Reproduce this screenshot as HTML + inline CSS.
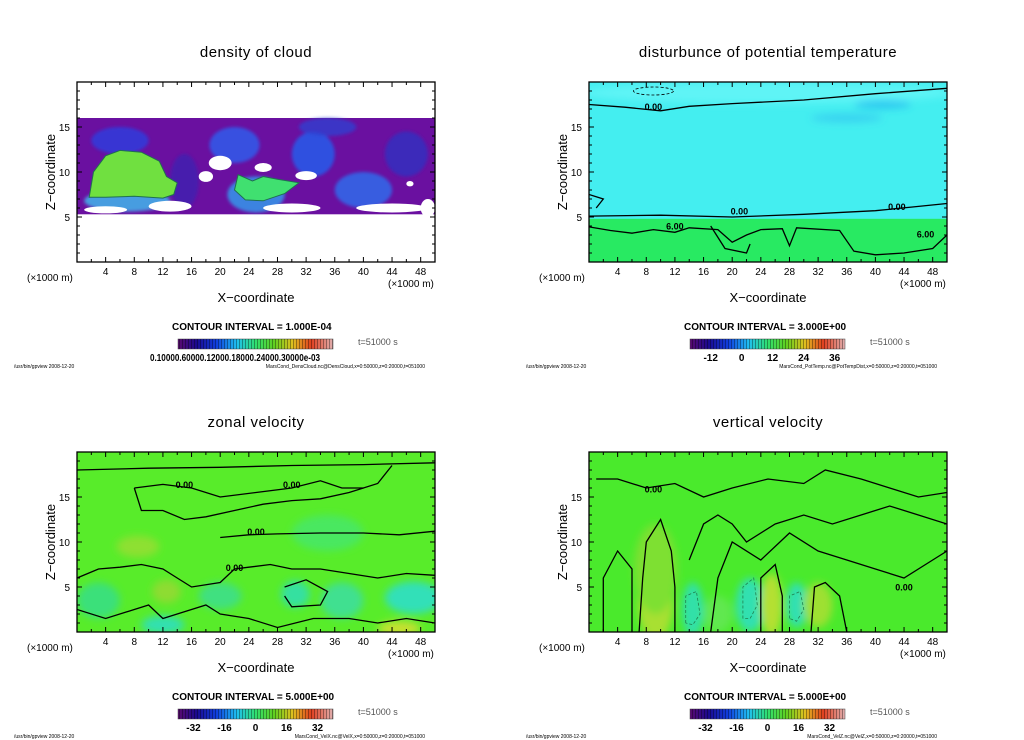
<!DOCTYPE html>
<html><head><meta charset="utf-8">
<style>
html,body{margin:0;padding:0;background:#fff;}
svg{display:block;font-family:"Liberation Sans",sans-serif;}
</style></head>
<body>
<svg id="fig" width="1024" height="740" viewBox="0 0 1024 740" xmlns="http://www.w3.org/2000/svg">
<defs>
<filter id="blur4" x="-20%" y="-20%" width="140%" height="140%"><feGaussianBlur stdDeviation="4"/></filter>
<filter id="blur2" x="-20%" y="-20%" width="140%" height="140%"><feGaussianBlur stdDeviation="1.5"/></filter>
<linearGradient id="cbar" x1="0" x2="1" y1="0" y2="0">
<stop offset="0" stop-color="#5a0a70"/><stop offset="0.12" stop-color="#1a0a90"/>
<stop offset="0.25" stop-color="#1040e0"/><stop offset="0.38" stop-color="#20c0f0"/>
<stop offset="0.5" stop-color="#30e070"/><stop offset="0.62" stop-color="#60d020"/>
<stop offset="0.74" stop-color="#e0c020"/><stop offset="0.86" stop-color="#e04020"/>
<stop offset="1" stop-color="#e0b0b0"/></linearGradient>
<pattern id="stripes" width="3" height="10" patternUnits="userSpaceOnUse"><rect x="2" width="1" height="10" fill="rgba(0,0,0,0.35)"/></pattern>
</defs>
</svg>
<script>
// ---------------- data ----------------
const xTicks=[4,8,12,16,20,24,28,32,36,40,44,48];
const zTicks=[5,10,15];
const titles=["density of cloud","disturbunce of potential temperature","zonal velocity","vertical velocity"];
const intervals=["CONTOUR INTERVAL = 1.000E-04","CONTOUR INTERVAL = 3.000E+00","CONTOUR INTERVAL = 5.000E+00","CONTOUR INTERVAL = 5.000E+00"];
const cbarLabelsPT=["-12","0","12","24","36"];
const cbarValuesPT=[-12,0,12,24,36];
const cbarLabelsV=["-32","-16","0","16","32"];
const cbarValuesV=[-32,-16,0,16,32];
const footRight=["MarsCond_DensCloud.nc@DensCloud,x=0:50000,z=0:20000,t=051000","MarsCond_PotTemp.nc@PotTempDist,x=0:50000,z=0:20000,t=051000","MarsCond_VelX.nc@VelX,x=0:50000,z=0:20000,t=051000","MarsCond_VelZ.nc@VelZ,x=0:50000,z=0:20000,t=051000"];
// field blobs: [x, z, rx, rz, color]
const cloudBlobs=[[6,13.5,4,1.5,"#2a40e0"],[22,13,3.5,2,"#2a60f0"],[33,12,3,2.5,"#2060f0"],[40,8,4,2,"#2a70f0"],[25,7.5,4,2,"#30a0f0"],[7,6.8,6,1.2,"#40c0f0"],[46,12,3,2.5,"#3030c0"],[35,15,4,1,"#3040d0"],[15,9,2,3,"#4020b0"]];
const cloudHoles=[[20,11,1.6,0.8],[18,9.5,1,0.6],[26,10.5,1.2,0.5],[32,9.6,1.5,0.5],[4,5.8,3,0.4],[13,6.2,3,0.6],[30,6,4,0.5],[44,6,5,0.5],[49,6,1,1],[46.5,8.7,0.5,0.3]];
const cloudDome=[[1.7,7.2],[2.3,10],[4,11.8],[6,12.4],[9,12.2],[11.5,11.2],[12.5,9.5],[14,8.8],[13.5,7.5],[12,7.1],[8,7.3],[4,7.2]];
const cloudPatch=[[22.5,9.7],[24.5,9],[26,9.5],[28,9.2],[31,8.8],[29,7.6],[26,6.8],[23.5,6.9],[22,8]];
const ptBlobs=[[9,19,6,0.6,"#30a0ef"],[25,18.8,26,1.2,"#5ef4f6"],[36,16,5,0.5,"#39d2f0"],[41,17.5,4,0.5,"#2cc8f0"]];
const ptLines=[[[0,5.1],[10,5.2],[20,5],[30,5.3],[40,5.7],[45,6.1],[50,6.5]],[[0,17.5],[5,17.2],[10,16.8],[14,17.3],[20,17.6],[30,18],[40,18.7],[50,19.3]],[[0,3.9],[3,3.5],[6,3.2],[9,3.6],[12,3.3],[14,3.8],[18,3.6],[20,2.2],[22,3],[24,3.6],[27,3.7],[28,1.8],[29,3.8],[35,3.5],[37,1.2],[40,0.8],[44,1],[48,1.5],[50,3]],[[17,4],[19,1.5],[22,1],[22.5,2]],[[0,7.5],[2,7],[1,6]]];
const velXBlobs=[[8.5,9.5,3,1.2,"#8ee030"],[12.5,4.5,2,1.3,"#8edc30"],[3,3.5,3,2,"#3ae07a"],[12,0.8,3,1,"#30e0b0"],[30.5,4.2,2,1.5,"#35e0a0"],[47,3.8,4,1.8,"#30e0b8"],[37,3.5,3,2,"#40e090"],[20,4,3,1.5,"#40e080"],[45,0.4,3,0.8,"#c8e030"],[35,11,5,2,"#48e860"]];
const velXLines=[[[0,18],[10,18.2],[20,18.3],[30,18.5],[40,18.6],[50,18.8]],[[8,16],[12,16.4],[16,16],[20,15],[25,15.5],[30,16],[34,16.8],[37,16],[40,16],[42,16.5],[44,18.5]],[[8,16],[9,13.5],[12,13.5],[15,12.5],[18,12.8],[22,13.5],[26,14.2],[30,14.6],[34,14.8],[38,15.5],[40,16]],[[20,10.5],[24,10.8],[28,10.9],[34,11],[40,11],[45,10.8],[50,11.2]],[[0,6],[3,7],[6,7.2],[9,7.5],[12,7],[14,6],[16,5],[20,5.5],[22,7],[24,7.2],[27,7.5],[30,7],[34,7],[38,6.5],[42,6],[46,6.5],[50,6.3]],[[0,2.5],[4,1.5],[8,2.5],[10,3],[12,1.5],[14,2],[18,3],[20,2],[24,1.5],[28,0.5],[33,1.5],[38,1.5],[42,1],[46,1.5],[50,1]],[[29,5],[32,5.8],[35,4.5],[34,3],[30,2.8],[29,4]]];
const velZBlobs=[[9.3,3.5,2.5,4.5,"#a8e030"],[9.3,7,3,5,"#7ee030"],[14.5,2.5,1.5,3,"#30e0a8"],[22.5,3,2,3,"#30e0b0"],[25.5,3,1.5,3.5,"#b4e030"],[29,3,1.5,2.5,"#30e0b0"],[32,3,2,2.5,"#9ee030"],[18,2,2,2,"#60e850"]];
const velZLines=[[[1,17],[4,17],[8,16],[12,16.5],[16,15],[20,16],[25,17],[30,16.5],[33,18],[38,17],[42,16],[46,15],[50,15.5]],[[7,0],[7.5,6],[8,10],[10,12.5],[11.5,9],[12,5],[12,0]],[[17,0],[18,6],[20,10],[24,8],[28,11],[32,9],[36,8],[40,7],[44,6],[48,8],[50,9]],[[24,0],[24,6],[26,7.5],[27,4],[27,0]],[[31,0],[31.5,5],[33,5.5],[35,4],[36,0]],[[2,0],[2,6],[4,9],[6,7],[6,0]],[[14,8],[16,12],[18,13],[20,12],[22,10],[26,12],[30,13],[34,12],[38,13],[42,14],[46,13],[50,12]]];
const velZDashed=[[[13.5,1],[13.5,4],[15,4.5],[15.5,2],[14.5,0.8],[13.5,1]],[[21.5,1.5],[21.5,5],[23,6],[23.5,3],[22.5,1.5],[21.5,1.5]],[[28,1.5],[28,4],[29.5,4.5],[30,2.5],[29,1.2],[28,1.5]]];

// ------------- geometry -------------
const NS="http://www.w3.org/2000/svg";
const svg=document.getElementById('fig');
const panels=[{x0:77,y0:82},{x0:589,y0:82},{x0:77,y0:452},{x0:589,y0:452}];
const PW=358,PH=180;
function sx(p,x){return p.x0+x*PW/50;}
function sy(p,z){return p.y0+PH-z*PH/20;}
function el(tag,attrs,parent){const e=document.createElementNS(NS,tag);for(const k in attrs)e.setAttribute(k,attrs[k]);(parent||svg).appendChild(e);return e;}
function txt(parent,x,y,s,size,anchor,extra){const t=el('text',Object.assign({x:x,y:y,'font-size':size,'text-anchor':anchor||'start',fill:'#000'},extra||{}),parent);t.textContent=s;return t;}
function ptsStr(p,arr){return arr.map(a=>sx(p,a[0]).toFixed(1)+','+sy(p,a[1]).toFixed(1)).join(' ');}

panels.forEach((p,i)=>{
  const g=el('g',{});
  
  
  const cp=el('clipPath',{id:'clip'+i},g);
  el('rect',{x:p.x0,y:p.y0,width:PW,height:PH},cp);
  const field=el('g',{'clip-path':'url(#clip'+i+')'},g);
  
  
  if(i===0){
    el('rect',{x:p.x0,y:p.y0,width:PW,height:PH,fill:'#fff'},field);
    const band=el('rect',{x:sx(p,0),y:sy(p,16),width:PW,height:sy(p,5.3)-sy(p,16),fill:'#6a10a0'},field);
    
    const bg=el('g',{filter:'url(#blur2)'},field);
    cloudBlobs.forEach(b=>el('ellipse',{cx:sx(p,b[0]),cy:sy(p,b[1]),rx:b[2]*PW/50,ry:b[3]*PH/20,fill:b[4],opacity:0.8},bg));
    el('polygon',{points:ptsStr(p,cloudDome),fill:'#70e040',stroke:'#207050','stroke-width':1},field);
    el('polygon',{points:ptsStr(p,cloudPatch),fill:'#40e070',stroke:'#207050','stroke-width':1},field);
    cloudHoles.forEach(h=>el('ellipse',{cx:sx(p,h[0]),cy:sy(p,h[1]),rx:h[2]*PW/50,ry:h[3]*PH/20,fill:'#fff'},field));
  } else if(i===1){
    el('rect',{x:p.x0,y:p.y0,width:PW,height:PH,fill:'#44eef0'},field);
    el('rect',{x:p.x0,y:sy(p,4.8),width:PW,height:sy(p,0)-sy(p,4.8),fill:'#28ea62'},field);
    const blurG=el('g',{filter:'url(#blur4)'},field);
    ptBlobs.forEach(b=>el('ellipse',{cx:sx(p,b[0]),cy:sy(p,b[1]),rx:b[2]*PW/50,ry:b[3]*PH/20,fill:b[4]},blurG));
    ptLines.forEach(l=>el('polyline',{points:ptsStr(p,l),fill:'none',stroke:'#000','stroke-width':1.3},field));
    el('ellipse',{cx:sx(p,9),cy:sy(p,19),rx:20,ry:4,fill:'none',stroke:'#000','stroke-dasharray':'3,2','stroke-width':0.8},field);
    [[9,16.9,"0.00"],[21,5.3,"0.00"],[43,5.8,"0.00"],[12,3.6,"6.00"],[47,2.7,"6.00"]].forEach(l=>txt(field,sx(p,l[0]),sy(p,l[1]),l[2],9,'middle',{'font-weight':'bold'}));
  } else {
    el('rect',{x:p.x0,y:p.y0,width:PW,height:PH,fill:i===2?'#58ec2a':'#4aea2c'},field);
    const blurG=el('g',{filter:'url(#blur4)'},field);
    const bl=i===2?velXBlobs:velZBlobs;
    bl.forEach(b=>el('ellipse',{cx:sx(p,b[0]),cy:sy(p,b[1]),rx:b[2]*PW/50,ry:b[3]*PH/20,fill:b[4]},blurG));
    const ls=i===2?velXLines:velZLines;
    ls.forEach(l=>el('polyline',{points:ptsStr(p,l),fill:'none',stroke:'#000','stroke-width':1.3},field));
    if(i===3) velZDashed.forEach(l=>el('polyline',{points:ptsStr(p,l),fill:'none',stroke:'#208050','stroke-dasharray':'3,2','stroke-width':0.8},field));
    const labs=i===2?[[25,10.8,"0.00"],[22,6.8,"0.00"],[30,16,"0.00"],[15,16,"0.00"]]:[[9,15.5,"0.00"],[44,4.6,"0.00"]];
    labs.forEach(l=>txt(field,sx(p,l[0]),sy(p,l[1]),l[2],9,'middle',{'font-weight':'bold'}));
  }
  const frame=el('rect',{x:p.x0,y:p.y0,width:PW,height:PH,fill:'none',stroke:'#000','stroke-width':1.3},g);
  
  
  let d='';
  for(let x=2;x<50;x+=2){const L=x%4===0?5:3;d+=`M${sx(p,x)},${p.y0+PH}v${-L}M${sx(p,x)},${p.y0}v${L}`;}
  for(let z=1;z<20;z++){const L=z%5===0?5:3;d+=`M${p.x0},${sy(p,z)}h${L}M${p.x0+PW},${sy(p,z)}h${-L}`;}
  el('path',{d:d,stroke:'#000','stroke-width':1,fill:'none'},g);
  const xl=el('g',{},g);
  
  
  xTicks.forEach(v=>txt(xl,sx(p,v),p.y0+PH+13,String(v),10,'middle'));
  const yl=el('g',{},g);
  
  
  zTicks.forEach(v=>txt(yl,p.x0-7,sy(p,v)+4,String(v),10,'end'));
  const t=txt(g,p.x0+179,p.y0-25,titles[i],15,'middle',{'letter-spacing':'0.5'});
  
  
  const yt=txt(g,0,0,'Z\u2212coordinate',13,'middle',{transform:`translate(${p.x0-22},${p.y0+90}) rotate(-90)`});
  
  
  const xt=txt(g,p.x0+179,p.y0+PH+40,'X\u2212coordinate',13,'middle');
  
  
  txt(g,p.x0-50,p.y0+PH+19,'(\u00d71000 m)',10,'start');
  txt(g,p.x0+PW-47,p.y0+PH+25,'(\u00d71000 m)',10,'start');
  const ci=txt(g,p.x0+95,p.y0+PH+68,intervals[i],10,'start',{'font-weight':'bold'});
  
  
  const cb=el('rect',{x:p.x0+101,y:p.y0+PH+77,width:155,height:10,fill:'url(#cbar)',stroke:'#444','stroke-width':0.5},g);
  
  
  el('rect',{x:p.x0+101,y:p.y0+PH+77,width:155,height:10,fill:'url(#stripes)'},g);
  txt(g,p.x0+281,p.y0+PH+83,'t=51000 s',9,'start',{fill:'#555'});
  if(i===0){
    txt(g,p.x0+73,p.y0+PH+99,'0.10000.60000.12000.18000.24000.30000e-03',10,'start',{'font-weight':'bold',textLength:170,lengthAdjust:'spacingAndGlyphs'});
  } else {
    const labs=i===1?cbarLabelsPT:cbarLabelsV, vals=i===1?cbarValuesPT:cbarValuesV;
    const lo=i===1?-20:-40, hi=40;
    labs.forEach((s,k)=>txt(g,p.x0+101+155*(vals[k]-lo)/(hi-lo),p.y0+PH+99,s,10,'middle',{'font-weight':'bold'}));
  }
  txt(g,p.x0-63,p.y0+PH+106,'/usr/bin/gpview   2008-12-20',5,'start');
  txt(g,p.x0+PW-10,p.y0+PH+106,footRight[i],5,'end');
});
</script>
</body></html>
